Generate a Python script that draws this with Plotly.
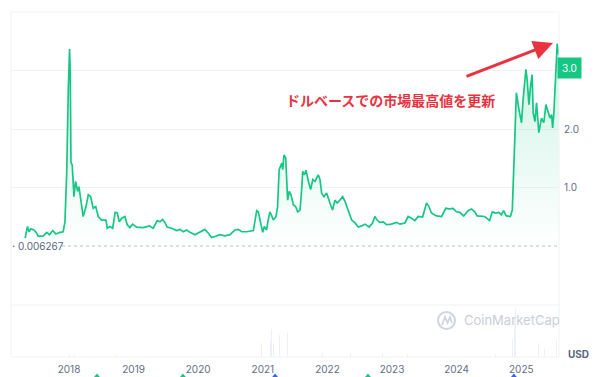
import plotly.graph_objects as go

# ---- price series (USD) ----
dates = [
"2017-04-28","2017-05-11","2017-05-20","2017-05-30","2017-06-17","2017-07-02","2017-07-11","2017-08-09","2017-08-28","2017-09-12",
"2017-10-01","2017-10-19","2017-11-11","2017-11-29","2017-12-09","2017-12-19","2017-12-28","2018-01-04","2018-01-08","2018-01-12",
"2018-01-19","2018-01-29","2018-02-07","2018-02-19","2018-02-26","2018-03-09","2018-03-22","2018-04-07","2018-04-20","2018-05-03",
"2018-05-18","2018-06-01","2018-06-15","2018-07-04","2018-07-29","2018-08-05","2018-08-20","2018-09-05","2018-09-19","2018-10-01",
"2018-10-12","2018-10-26","2018-11-13","2018-11-26","2018-12-11","2018-12-27","2019-01-18","2019-02-25","2019-03-31","2019-04-22",
"2019-05-15","2019-05-30","2019-06-14","2019-06-27","2019-07-10","2019-08-04","2019-09-01","2019-09-20","2019-10-09","2019-10-28",
"2019-11-16","2019-12-14","2020-01-11","2020-02-08","2020-02-27","2020-03-17","2020-04-05","2020-05-03","2020-05-31","2020-06-29",
"2020-07-27","2020-08-15","2020-09-03","2020-10-01","2020-11-08","2020-11-17","2020-11-27","2020-12-06","2020-12-20","2020-12-31",
"2021-01-09","2021-01-22","2021-01-31","2021-02-10","2021-02-20","2021-03-01","2021-03-16","2021-03-25","2021-04-03","2021-04-18",
"2021-04-23","2021-04-30","2021-05-10","2021-05-15","2021-05-21","2021-05-30","2021-06-09","2021-06-22","2021-07-05","2021-07-17",
"2021-07-30","2021-08-08","2021-08-14","2021-08-23","2021-09-02","2021-09-15","2021-09-28","2021-10-10","2021-10-23","2021-11-01",
"2021-11-10","2021-11-20","2021-11-29","2021-12-12","2021-12-27","2022-01-15","2022-01-30","2022-02-12","2022-02-25","2022-03-12",
"2022-03-28","2022-04-10","2022-04-29","2022-05-18","2022-06-06","2022-06-24","2022-07-13","2022-08-01","2022-08-25","2022-09-13",
"2022-09-26","2022-10-09","2022-10-24","2022-11-12","2022-12-01","2022-12-28","2023-01-27","2023-02-15","2023-03-15","2023-04-02",
"2023-04-21","2023-05-10","2023-05-29","2023-06-23","2023-07-15","2023-07-29","2023-08-12","2023-09-09","2023-10-08","2023-11-01",
"2023-11-20","2023-12-12","2023-12-31","2024-01-19","2024-02-10","2024-03-06","2024-03-25","2024-04-13","2024-04-26","2024-05-11",
"2024-06-08","2024-07-06","2024-07-21","2024-08-09","2024-08-27","2024-09-10","2024-09-23","2024-10-08","2024-10-31","2024-11-11",
"2024-11-19","2024-12-04","2024-12-19","2025-01-02","2025-01-11","2025-01-27","2025-02-03","2025-02-13","2025-02-22","2025-03-03",
"2025-03-09","2025-03-19","2025-03-28","2025-04-10","2025-04-25","2025-05-08","2025-05-20","2025-06-02","2025-06-12","2025-06-21",
"2025-06-27","2025-07-04","2025-07-14","2025-07-23","2025-08-01"]

prices = [
0.14,0.34,0.25,0.30,0.28,0.23,0.17,0.18,0.24,0.20,
0.27,0.21,0.24,0.25,0.42,1.26,2.68,3.37,2.97,1.43,
1.39,0.85,1.11,0.94,1.02,0.77,0.51,0.68,0.88,0.85,
0.65,0.68,0.51,0.45,0.45,0.31,0.34,0.31,0.58,0.57,
0.42,0.48,0.51,0.37,0.32,0.38,0.33,0.32,0.35,0.31,
0.44,0.42,0.46,0.41,0.33,0.31,0.27,0.29,0.25,0.28,
0.24,0.20,0.24,0.29,0.23,0.15,0.17,0.20,0.18,0.20,
0.28,0.29,0.25,0.25,0.27,0.45,0.61,0.59,0.40,0.24,
0.34,0.28,0.45,0.59,0.52,0.45,0.51,0.68,1.31,1.42,
1.31,1.56,1.51,1.08,0.79,0.94,0.88,0.71,0.68,0.59,
0.62,0.97,1.28,1.22,1.30,1.11,0.97,1.14,1.11,1.17,
1.22,1.14,0.91,0.85,0.91,0.74,0.62,0.79,0.74,0.79,
0.85,0.77,0.62,0.45,0.40,0.33,0.35,0.38,0.33,0.40,
0.51,0.45,0.41,0.42,0.37,0.38,0.41,0.38,0.40,0.51,
0.48,0.44,0.51,0.50,0.74,0.68,0.57,0.52,0.51,0.65,
0.64,0.65,0.59,0.58,0.52,0.61,0.64,0.59,0.52,0.52,
0.51,0.44,0.59,0.57,0.58,0.54,0.61,0.52,0.51,0.62,
1.43,2.62,2.33,2.11,2.50,3.02,2.85,2.42,2.73,2.93,
2.28,2.13,2.45,1.94,2.19,2.11,2.42,2.28,2.19,2.25,
2.02,2.28,3.02,3.46,3.27]

# ---- relative trading volume (faint bars) ----
vol_dates = ["2017-06-01","2017-09-01","2017-12-15","2018-01-05","2018-02-01","2018-05-01","2018-09-20","2019-04-01",
"2019-09-20","2020-03-13","2020-07-15","2020-11-24","2020-12-23","2021-01-30","2021-02-05","2021-02-12","2021-02-20",
"2021-03-01","2021-03-15","2021-04-06","2021-04-13","2021-04-20","2021-04-30","2021-05-12","2021-05-19","2021-06-21",
"2021-09-07","2021-12-04","2022-05-12","2022-11-09","2023-03-29","2023-07-13","2024-03-11","2024-08-08","2024-11-12",
"2024-11-16","2024-11-22","2024-11-30","2024-12-03","2024-12-12","2025-01-16","2025-01-21","2025-02-03","2025-03-02",
"2025-04-07","2025-05-12","2025-07-11","2025-07-18"]
vol_values = [1,1,2,3,2,1.5,2,1,1.5,8,1.5,6,14,12,20,16,28,14,12,22,26,20,15,18,24,8,6,4,4,4,3,7,3,3,
18,30,40,48,50,30,28,20,38,24,14,8,14,18]

# ---- events shown as diamonds under the axis ----
event_dates = ["2018-06-08","2019-10-07","2021-03-11","2022-08-18","2024-11-20"]
event_colors = ["#16c784","#16c784","#3861fb","#16c784","#3861fb"]

year_ticks = ["2018-01-01","2019-01-01","2020-01-01","2021-01-01","2022-01-01","2023-01-01","2024-01-01","2025-01-01"]
year_labels = ["2018","2019","2020","2021","2022","2023","2024","2025"]
price_ticks = [1, 2, 3]
price_labels = ["1.0", "2.0", ""]
start_price = 0.006267
start_label = "0.006267"
badge_text = "3.0"
note_text = "ドルベースでの市場最高値を更新"

GREEN = "#16c784"
RED = "#ea3340"
GRID = "#eff2f5"
TXT = "#616e85"
FONT = "Inter, Roboto, sans-serif"

fig = go.Figure()

fig.add_trace(go.Bar(
    x=vol_dates, y=vol_values, yaxis="y2",
    marker=dict(color="rgba(220,225,233,0.5)", line=dict(width=0)),
    width=3 * 86400000, hoverinfo="skip"))

fig.add_trace(go.Scatter(
    x=dates, y=prices, mode="lines",
    line=dict(color=GREEN, width=1.7),
    fill="tozeroy",
    fillgradient=dict(type="vertical", start=0, stop=3.5,
                      colorscale=[[0, "rgba(22,199,132,0)"], [1, "rgba(22,199,132,0.22)"]]),
    hoverinfo="skip"))

PL, PR, PT, PB = 11, 41, 12, 20
W, H = 600, 377
ph = H - PT - PB
split = (H - PB - 305) / ph

fig.update_layout(
    width=W, height=H,
    margin=dict(l=PL, r=PR, t=PT, b=PB, pad=0, autoexpand=False),
    paper_bgcolor="white", plot_bgcolor="white",
    showlegend=False,
    font=dict(family=FONT, color=TXT, size=10),
    bargap=0,
    xaxis=dict(type="date", range=["2017-02-07", "2025-08-02"], anchor="y2",
               tickvals=year_ticks, ticktext=year_labels, automargin=False,
               showgrid=False, zeroline=False, ticks="", showline=False,
               tickfont=dict(size=10, color=TXT), ticklabelstandoff=5),
    yaxis=dict(domain=[split, 1], range=[-1.0, 4.0], side="right", anchor="x",
               tickvals=price_ticks, ticktext=price_labels, automargin=False,
               showgrid=True, gridcolor=GRID, gridwidth=1,
               zeroline=False, ticks="", showline=False,
               tickfont=dict(size=10, color=TXT), ticklabelstandoff=4),
    yaxis2=dict(domain=[0, split], range=[0, 52], showgrid=False, anchor="x",
                automargin=False, zeroline=False, showticklabels=False, ticks=""),
)

def px_x(x):
    return (x - PL) / (W - PL - PR)

def px_y(y):
    return (H - PB - y) / ph

shapes = []
for (x0, x1, y0, y1) in [(0, 1, 1, 1), (0, 1, split, split), (0, 1, 0, 0), (0, 0, 0, 1), (1, 1, 0, 1)]:
    shapes.append(dict(type="line", xref="paper", yref="paper", x0=x0, x1=x1, y0=y0, y1=y1,
                       line=dict(color=GRID, width=1)))
# dotted start-price line
shapes.append(dict(type="line", xref="paper", yref="y", x0=px_x(62), x1=1,
                   y0=start_price, y1=start_price,
                   line=dict(color="#b8bfcc", width=1, dash="dot")))
# watermark logo: circle with a wave
shapes.append(dict(type="circle", xref="paper", yref="paper",
                   x0=px_x(438), x1=px_x(455), y0=px_y(329), y1=px_y(312),
                   line=dict(color="#cfd4dd", width=2)))
shapes.append(dict(type="path", xref="paper", yref="paper",
                   path="M {:.4f},{:.4f} L {:.4f},{:.4f} L {:.4f},{:.4f} L {:.4f},{:.4f} L {:.4f},{:.4f}".format(
                       px_x(442), px_y(325), px_x(445), px_y(317), px_x(447.5), px_y(323),
                       px_x(450), px_y(317), px_x(452), px_y(323)),
                   line=dict(color="#cfd4dd", width=1.8)))
# event diamonds below the axis (mostly cut off by the picture edge)
for d, c in zip(event_dates, event_colors):
    shapes.append(dict(type="path", xref="x", yref="paper", xsizemode="pixel", ysizemode="pixel",
                       xanchor=d, yanchor=px_y(379.5),
                       path="M 0,6 L 5,0 L 0,-6 L -5,0 Z",
                       fillcolor=c, line=dict(width=0)))
fig.update_layout(shapes=shapes)

annotations = [
    dict(text=start_label, xref="paper", yref="y", x=px_x(16), y=start_price,
         xanchor="left", yanchor="middle", showarrow=False,
         font=dict(size=10, color="#58667e")),
    dict(text="·", xref="paper", yref="y", x=px_x(10), y=start_price,
         xanchor="left", yanchor="middle", showarrow=False,
         font=dict(size=11, color="#58667e")),
    dict(text=badge_text, xref="paper", yref="paper", x=px_x(569), y=px_y(68),
         xanchor="center", yanchor="middle", showarrow=False,
         bgcolor=GREEN, borderpad=4, font=dict(size=10, color="white")),
    dict(text="USD", xref="paper", yref="paper", x=px_x(578), y=px_y(354),
         xanchor="center", yanchor="middle", showarrow=False,
         font=dict(size=10, color="#58667e", weight="bold")),
    dict(text="CoinMarketCap", xref="paper", yref="paper", x=px_x(462), y=px_y(320),
         xanchor="left", yanchor="middle", showarrow=False,
         font=dict(size=13, color="#c9ced8", family=FONT)),
    dict(text=note_text, xref="paper", yref="paper", x=px_x(390), y=px_y(100),
         xanchor="center", yanchor="middle", showarrow=False,
         font=dict(size=14, color=RED, family="Noto Sans CJK JP", weight="bold")),
    dict(text="", xref="paper", yref="paper", x=px_x(553), y=px_y(43),
         ax=-88, ay=34, showarrow=True, arrowhead=2, arrowsize=1.3,
         arrowwidth=3, arrowcolor=RED),
]
fig.update_layout(annotations=annotations)

fig.write_html("out.html")
